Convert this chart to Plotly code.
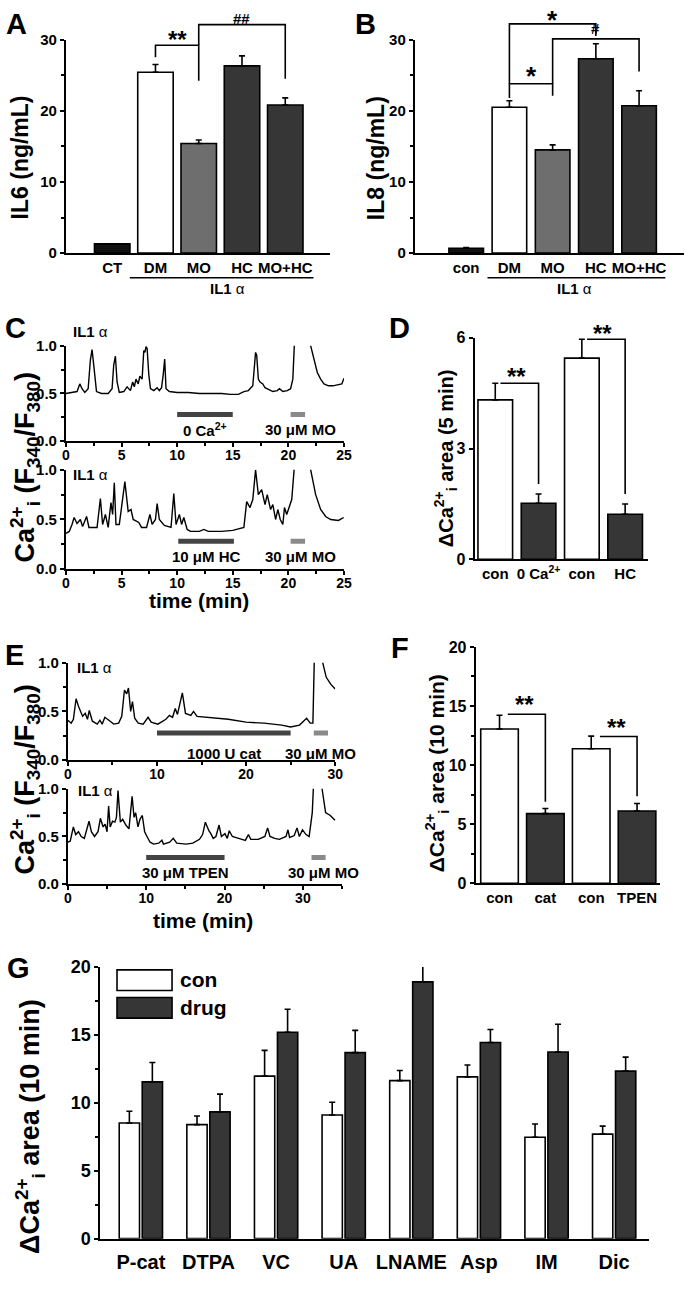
import plotly.graph_objects as go

W, H = 693, 1290
FONT = "Liberation Sans, Arial, sans-serif"
DARK = "#363636"

# ---------------- data ----------------
a_labels = ["CT", "DM", "MO", "HC", "MO+HC"]
a_il6 = [1.3, 25.4, 15.4, 26.3, 20.8]
a_il6_sem = [0.0, 1.1, 0.5, 1.4, 1.0]

b_labels = ["con", "DM", "MO", "HC", "MO+HC"]
b_il8 = [0.7, 20.5, 14.5, 27.3, 20.7]
b_il8_sem = [0.1, 0.9, 0.7, 2.1, 2.1]

ab_colors = ["#111111", "white", "#6e6e6e", DARK, DARK]

# C: ratio traces (values above 1.0 run off the top of the axis)
c1_t = [0, 0.6, 1.0, 1.25, 1.45, 1.7, 2.0, 2.2, 2.35, 2.5, 2.75, 3.2, 3.8, 4.15, 4.3, 4.45,
        4.6, 4.8, 5.2, 5.5, 5.8, 6.0, 6.15, 6.3, 6.5, 6.65, 6.85, 7.0, 7.1, 7.2, 7.3, 7.45,
        7.6, 7.9, 8.2, 8.4, 8.6, 8.75, 8.88, 9.0, 9.3, 10.0, 11.0, 12.0, 13.0, 14.0, 14.8,
        15.5, 16.0, 16.4, 16.8, 16.95, 17.05, 17.15, 17.3, 17.45, 17.7, 17.9, 18.2, 18.6,
        19.0, 19.2, 19.5, 19.9, 20.2, 20.4, 20.55, 20.8, 21.3, 21.8, 22.0, 22.3, 22.6, 22.9,
        23.2, 23.6, 24.0, 24.4, 24.8, 25.0]
c1_ratio = [0.50, 0.51, 0.52, 0.60, 0.55, 0.51, 0.55, 0.85, 0.96, 0.80, 0.52, 0.50, 0.50,
            0.55, 0.80, 0.89, 0.62, 0.51, 0.52, 0.57, 0.53, 0.62, 0.57, 0.65, 0.60, 0.68,
            0.65, 0.95, 0.93, 0.99, 0.97, 0.70, 0.55, 0.53, 0.56, 0.53, 0.56, 0.70, 0.86,
            0.55, 0.52, 0.51, 0.51, 0.50, 0.50, 0.50, 0.49, 0.49, 0.52, 0.53, 0.58, 0.75,
            0.93, 0.90, 0.65, 0.62, 0.60, 0.56, 0.54, 0.52, 0.53, 0.55, 0.52, 0.53, 0.55,
            0.65, 1.05, 1.4, 1.5, 1.3, 1.0, 0.85, 0.72, 0.65, 0.60, 0.58, 0.58, 0.59, 0.60, 0.66]

c2_t = [0, 0.3, 0.55, 0.74, 1.0, 1.3, 1.5, 1.86, 2.07, 2.8, 3.1, 3.3, 3.55, 3.8, 4.05, 4.2,
        4.35, 4.5, 4.8, 5.3, 5.6, 5.85, 6.05, 6.55, 6.8, 7.25, 7.55, 7.75, 8.05, 8.2, 8.4,
        8.85, 9.45, 9.7, 9.9, 10.2, 10.4, 10.6, 10.9, 11.2, 12.0, 12.4, 12.8, 14.0, 15.0,
        16.0, 16.25, 16.55, 16.8, 17.05, 17.3, 17.6, 17.9, 18.1, 18.4, 18.6, 18.85, 19.05,
        19.27, 19.5, 19.65, 19.85, 20.0, 20.3, 20.55, 20.9, 21.5, 22.0, 22.45, 22.9, 23.35,
        23.8, 24.5, 24.97]
c2_ratio = [0.36, 0.38, 0.45, 0.52, 0.46, 0.50, 0.43, 0.53, 0.42, 0.42, 0.71, 0.45, 0.55,
            0.42, 0.67, 0.55, 0.87, 0.45, 0.45, 0.88, 0.58, 0.60, 0.50, 0.47, 0.42, 0.42,
            0.55, 0.45, 0.50, 0.66, 0.50, 0.44, 0.42, 0.76, 0.45, 0.55, 0.45, 0.52, 0.40,
            0.38, 0.38, 0.40, 0.38, 0.38, 0.39, 0.42, 0.68, 0.62, 0.70, 1.00, 0.75, 0.80,
            0.65, 0.75, 0.60, 0.65, 0.50, 0.60, 0.50, 0.45, 0.62, 0.55, 0.60, 0.70, 1.05,
            1.4, 1.5, 1.0, 0.75, 0.60, 0.53, 0.50, 0.49, 0.52]

c1_periods = [(10, 15, "<b>0 Ca<sup>2+</sup></b>"), (20.2, 21.5, "<b>30 μM MO</b>")]
c2_periods = [(10.1, 15.1, "<b>10 μM HC</b>"), (20.2, 21.5, "<b>30 μM MO</b>")]

d_labels = ["con", "0 Ca<sup>2+</sup>", "con", "HC"]
d_area = [4.32, 1.52, 5.45, 1.22]
d_sem = [0.45, 0.25, 0.51, 0.28]

# E: ratio traces
e1_t = [0, 0.37, 0.62, 0.92, 1.2, 1.47, 1.65, 1.95, 2.2, 2.4, 2.75, 3.3, 3.6, 3.85, 4.15,
        4.6, 5.15, 5.7, 6.05, 6.35, 6.6, 6.8, 7.05, 7.25, 7.5, 7.9, 8.45, 9.0, 9.35, 10.1,
        10.6, 11.0, 11.4, 11.75, 12.05, 12.3, 12.85, 13.2, 13.8, 14.1, 14.5, 16.0, 18.0,
        20.0, 22.0, 24.0, 25.0, 26.0, 26.8, 27.2, 27.5, 27.7, 28.1, 28.6, 29.0, 29.5, 30.0]
e1_ratio = [0.41, 0.38, 0.42, 0.63, 0.55, 0.50, 0.45, 0.48, 0.42, 0.51, 0.40, 0.37, 0.41,
            0.37, 0.44, 0.41, 0.37, 0.38, 0.45, 0.72, 0.68, 0.74, 0.50, 0.60, 0.43, 0.38,
            0.37, 0.44, 0.39, 0.37, 0.40, 0.42, 0.46, 0.44, 0.53, 0.47, 0.69, 0.48, 0.46,
            0.50, 0.45, 0.44, 0.42, 0.39, 0.38, 0.36, 0.34, 0.36, 0.43, 0.38, 0.38, 1.2,
            1.4, 1.0, 0.85, 0.78, 0.73]

e2_t = [0, 0.3, 0.7, 1.0, 1.35, 1.7, 2.1, 2.7, 3.0, 3.4, 3.85, 4.15, 4.5, 4.75, 5.0, 5.2,
        5.4, 5.7, 6.0, 6.2, 6.4, 6.7, 7.0, 7.4, 7.8, 8.2, 8.45, 8.65, 8.95, 9.2, 9.5, 9.8,
        10.1, 10.5, 10.95, 11.6, 12.0, 12.2, 13.0, 13.45, 13.9, 15.1, 15.95, 16.8, 17.2,
        17.55, 18.0, 18.25, 18.55, 18.9, 19.3, 19.6, 20.05, 20.35, 20.6, 21.0, 21.8, 22.65,
        23.05, 23.35, 24.3, 25.15, 25.5, 25.8, 26.4, 27.0, 27.85, 28.1, 28.3, 28.9, 29.25,
        29.55, 29.95, 30.4, 30.8, 31.0, 31.2, 31.5, 32.0, 32.45, 32.9, 33.5, 34.1]
e2_ratio = [0.44, 0.45, 0.60, 0.52, 0.55, 0.50, 0.48, 0.66, 0.55, 0.50, 0.55, 0.69, 0.60,
            0.63, 0.55, 0.82, 0.60, 0.66, 0.65, 0.70, 0.98, 0.65, 0.68, 0.62, 0.58, 0.92,
            0.70, 0.75, 0.60, 0.68, 0.72, 0.55, 0.50, 0.44, 0.42, 0.43, 0.46, 0.42, 0.44,
            0.48, 0.43, 0.42, 0.43, 0.47, 0.52, 0.65, 0.56, 0.53, 0.48, 0.50, 0.62, 0.50,
            0.53, 0.48, 0.56, 0.50, 0.48, 0.46, 0.52, 0.47, 0.47, 0.50, 0.59, 0.50, 0.48,
            0.47, 0.50, 0.57, 0.49, 0.51, 0.59, 0.50, 0.57, 0.52, 0.50, 0.64, 0.75, 1.3,
            1.5, 1.0, 0.75, 0.72, 0.67]

e1_periods = [(10, 25, "<b>1000 U cat</b>"), (27.6, 29.2, "<b>30 μM MO</b>")]
e2_periods = [(10, 20, "<b>30 μM TPEN</b>"), (31.1, 32.9, "<b>30 μM MO</b>")]

f_labels = ["con", "cat", "con", "TPEN"]
f_area = [13.06, 5.89, 11.39, 6.11]
f_sem = [1.16, 0.44, 1.06, 0.64]
df_colors = ["white", DARK, "white", DARK]

g_labels = ["P-cat", "DTPA", "VC", "UA", "LNAME", "Asp", "IM", "Dic"]
g_con = [8.51, 8.39, 11.96, 9.10, 11.63, 11.91, 7.46, 7.69]
g_con_sem = [0.87, 0.64, 1.90, 0.94, 0.75, 0.87, 0.98, 0.59]
g_drug = [11.54, 9.33, 15.19, 13.69, 18.90, 14.44, 13.74, 12.33]
g_drug_sem = [1.43, 1.31, 1.69, 1.64, 1.19, 0.96, 2.04, 1.03]

# ---------------- layout of the panels (pixel boxes) ----------------
panels = {
    "A": dict(box=(63, 332, 30, 247), xr=(-1.07, 5.04), yr=(0, 30)),
    "B": dict(box=(418, 692, 30, 247), xr=(-1.19, 5.04), yr=(0, 30)),
    "C1": dict(box=(63, 346, 341, 438), xr=(0, 25), yr=(0, 1)),
    "C2": dict(box=(63, 346, 467, 568), xr=(0, 25), yr=(0, 1)),
    "D": dict(box=(479, 655, 333, 558), xr=(-0.475, 3.52), yr=(0, 6)),
    "E1": dict(box=(65, 337, 663, 762), xr=(0, 30), yr=(0, 1)),
    "E2": dict(box=(65, 344, 791, 888), xr=(0, 35), yr=(0, 1)),
    "F": dict(box=(480, 668, 647, 887), xr=(-0.52, 3.51), yr=(0, 20)),
    "G": dict(box=(98, 656, 972, 1248), xr=(-0.6, 7.51), yr=(0, 20)),
}
order = list(panels)


def ref(k, a):
    n = order.index(k) + 1
    return a if n == 1 else f"{a}{n}"


def to_paper(k, xv, yv):
    x0, x1, top, bot = panels[k]["box"]
    xr, yr = panels[k]["xr"], panels[k]["yr"]
    X = x0 + (xv - xr[0]) / (xr[1] - xr[0]) * (x1 - x0)
    Y = bot - (yv - yr[0]) / (yr[1] - yr[0]) * (bot - top)
    return X / W, 1 - Y / H


shapes, annotations = [], []


def note(text, x, y, size=14, xanchor="center", **kw):
    annotations.append(dict(text=text, x=x / W, y=1 - y / H, xref="paper", yref="paper",
                            xanchor=xanchor, yanchor="middle", showarrow=False,
                            font=dict(family=FONT, size=size, color="black"), **kw))


def star(k, text, xv, yv, size=20):
    x, y = to_paper(k, xv, yv)
    annotations.append(dict(text=f"<b>{text}</b>", x=x, y=y, xref="paper", yref="paper",
                            xanchor="center", yanchor="middle", showarrow=False,
                            font=dict(family=FONT, size=size, color="black")))


def bracket(k, xl, xr_, ytop, yl=None, yr_=None):
    pts = []
    if yl is not None:
        pts.append(to_paper(k, xl, yl))
    pts += [to_paper(k, xl, ytop), to_paper(k, xr_, ytop)]
    if yr_ is not None:
        pts.append(to_paper(k, xr_, yr_))
    path = "M " + " L ".join(f"{x:.5f},{y:.5f}" for x, y in pts)
    shapes.append(dict(type="path", path=path, xref="paper", yref="paper",
                       line=dict(color="black", width=1.6)))


def hline(x0, x1, y, width=1.6):
    shapes.append(dict(type="line", xref="paper", yref="paper", x0=x0 / W, x1=x1 / W,
                       y0=1 - y / H, y1=1 - y / H, line=dict(color="black", width=width)))


fig = go.Figure()

# ---------------- bar panels ----------------
def err(sem):
    return dict(type="data", array=sem, arrayminus=[0] * len(sem), symmetric=False,
                color="black", thickness=1.6, width=3)


for k, vals, sem, cols, w in [("A", a_il6, a_il6_sem, ab_colors, 0.82),
                              ("B", b_il8, b_il8_sem, ab_colors, 0.8),
                              ("D", d_area, d_sem, df_colors, 0.8),
                              ("F", f_area, f_sem, df_colors, 0.82)]:
    fig.add_trace(go.Bar(x=list(range(len(vals))), y=vals, width=w,
                         marker=dict(color=cols, line=dict(color="black", width=1.6)),
                         error_y=err(sem), xaxis=ref(k, "x"), yaxis=ref(k, "y")))

gx = list(range(len(g_labels)))
fig.add_trace(go.Bar(x=gx, y=g_con, width=0.3, offset=-0.32, name="con", cliponaxis=False,
                     marker=dict(color="white", line=dict(color="black", width=1.6)),
                     error_y=err(g_con_sem), xaxis=ref("G", "x"), yaxis=ref("G", "y")))
fig.add_trace(go.Bar(x=gx, y=g_drug, width=0.3, offset=0.02, name="drug", cliponaxis=False,
                     marker=dict(color=DARK, line=dict(color="black", width=1.6)),
                     error_y=err(g_drug_sem), xaxis=ref("G", "x"), yaxis=ref("G", "y")))

# ---------------- ratio traces ----------------
for k, t, v, periods in [("C1", c1_t, c1_ratio, c1_periods), ("C2", c2_t, c2_ratio, c2_periods),
                         ("E1", e1_t, e1_ratio, e1_periods), ("E2", e2_t, e2_ratio, e2_periods)]:
    fig.add_trace(go.Scatter(x=t, y=v, mode="lines", line=dict(color="black", width=1.4),
                             xaxis=ref(k, "x"), yaxis=ref(k, "y")))
    for i, (s, e, lab) in enumerate(periods):
        shapes.append(dict(type="line", xref=ref(k, "x"), yref=ref(k, "y"), x0=s, x1=e,
                           y0=0.28, y1=0.28, line=dict(color="#444444" if i == 0 else "#8a8a8a", width=5)))

# ---------------- axes ----------------
def tfont(size):
    return dict(family=FONT, size=size, color="black")


minor_tick = dict(ticks="outside", ticklen=3, tickwidth=1.5, tickcolor="black")
layout_axes = {}
for k, p in panels.items():
    x0, x1, top, bot = p["box"]
    xa = dict(domain=[x0 / W, x1 / W], range=list(p["xr"]), anchor=ref(k, "y"),
              showline=True, linecolor="black", linewidth=2, showgrid=False, zeroline=False,
              tickfont=tfont(14), tickprefix="<b>", ticksuffix="</b>")
    ya = dict(domain=[1 - bot / H, 1 - top / H], range=list(p["yr"]), anchor=ref(k, "x"),
              showline=True, linecolor="black", linewidth=2, showgrid=False, zeroline=False,
              ticks="outside", ticklen=4, tickwidth=2, tickcolor="black", tickfont=tfont(15),
              tickprefix="<b>", ticksuffix="</b>")
    if k in ("A", "B", "D", "F", "G"):
        labels = {"A": a_labels, "B": b_labels, "D": d_labels, "F": f_labels, "G": g_labels}[k]
        xa.update(tickvals=list(range(len(labels))), ticktext=[f"<b>{s}</b>" for s in labels],
                  ticks="", tickfont=tfont(20 if k == "G" else 15))
    else:
        # time axes: labels sit tight under the axis line, as in the original
        xa.update(ticks="outside", ticklen=4, tickwidth=2, tickcolor="black", ticklabelstandoff=-4,
                  dtick=5 if k.startswith("C") else 10,
                  minor=dict(dtick=2.5 if k.startswith("C") else 5, **minor_tick))
        ya.update(dtick=0.5, tickformat=".1f", minor=dict(dtick=0.25, **minor_tick))
    if k in ("A", "B"):
        ya.update(dtick=10, minor=dict(dtick=5, **minor_tick))
    if k == "D":
        ya.update(dtick=3, tickfont=tfont(16))
    if k in ("F", "G"):
        ya.update(dtick=5, tickfont=tfont(18 if k == "G" else 16), minor=dict(dtick=2.5, **minor_tick))
    if k == "G":
        xa.update(ticklabelstandoff=4)
    layout_axes[ref(k, "xaxis")] = xa
    layout_axes[ref(k, "yaxis")] = ya

# ---------------- labels ----------------
for letter, x, y in [("A", 13, 14), ("B", 368, 14), ("C", 12, 323), ("D", 402, 323),
                     ("E", 11, 655), ("F", 403, 648), ("G", 15, 973)]:
    note(f"<b>{letter}</b>", x, y, size=29)

note("<b>IL6 (ng/mL)</b>", 16, 150, size=23, textangle=-90)
note("<b>IL8 (ng/mL)</b>", 378, 150, size=23, textangle=-90)
hline(128, 315, 272)
hline(492, 673, 272)
note("<b>IL1</b> α", 227, 283, size=15)
note("<b>IL1</b> α", 581, 283, size=15)

ca_ratio = "<b>Ca<sup>2+</sup><sub>i</sub> (F<sub>340</sub>/F<sub>380</sub>)</b>"
note(ca_ratio, 21, 465, size=27, textangle=-90)
note(ca_ratio, 21, 782, size=27, textangle=-90)
note("<b>time (min)</b>", 198, 600, size=21)
note("<b>time (min)</b>", 202, 925, size=21)
for x, y in [(68, 327), (68, 472), (72, 668), (73, 793)]:
    note("<b>IL1</b> α", x, y, size=15, xanchor="left")

area5 = "<b>ΔCa<sup>2+</sup><sub>i</sub> area (5 min)</b>"
area10 = "<b>ΔCa<sup>2+</sup><sub>i</sub> area (10 min)</b>"
note(area5, 450, 455, size=20, textangle=-90)
note(area10, 441, 775, size=21, textangle=-90)
note(area10, 27, 1134, size=27, textangle=-90)

# treatment labels under the period bars
for k, periods, yv in [("C1", c1_periods, 0.12), ("C2", c2_periods, 0.13),
                       ("E1", e1_periods, 0.07), ("E2", e2_periods, 0.12)]:
    for s, e, lab in periods:
        xc = (s + e) / 2
        if lab.endswith("MO</b>"):
            xc = {"C1": 21.1, "C2": 21.1, "E1": 28.4, "E2": 32.6}[k]
        x, y = to_paper(k, xc, yv)
        annotations.append(dict(text=lab, x=x, y=y, xref="paper", yref="paper", showarrow=False,
                                xanchor="center", yanchor="middle",
                                font=dict(family=FONT, size=15, color="black")))

# significance brackets
bracket("A", 1, 2, 29.2, 27.5, 24.2)
bracket("A", 2, 4, 32.1, 29.2, 24.5)
star("A", "**", 1.5, 30.0, size=24)
star("A", "##", 3.0, 33.0, size=15)

bracket("B", 1, 2, 23.8, 21.8, 22.1)
bracket("B", 1, 3, 32.2, 23.8, 30.5)
bracket("B", 2, 4, 30.1, 23.8, 25.5)
star("B", "*", 1.5, 24.9, size=26)
star("B", "*", 2.0, 32.8, size=26)
star("B", "#", 3.0, 31.5, size=15)

bracket("D", 0.12, 1, 4.77, None, 2.04)
bracket("D", 2.12, 3, 5.96, None, 1.77)
star("D", "**", 0.5, 4.95, size=24)
star("D", "**", 2.47, 6.13, size=24)

bracket("F", 0.18, 1, 14.3, None, 6.89)
bracket("F", 2.19, 3, 12.42, None, 7.37)
star("F", "**", 0.55, 15.1, size=24)
star("F", "**", 2.55, 13.2, size=24)

# legend for G
for i, (name, col) in enumerate([("con", "white"), ("drug", DARK)]):
    y0 = 975 + i * 28
    shapes.append(dict(type="rect", xref="paper", yref="paper", x0=115 / W, x1=171 / W,
                       y0=1 - y0 / H, y1=1 - (y0 + 21) / H, fillcolor=col,
                       line=dict(color="black", width=1.6)))
    note(f"<b>{name}</b>", 177, y0 + 10, size=21, xanchor="left")

fig.update_layout(width=W, height=H, margin=dict(l=0, r=0, t=0, b=0),
                  paper_bgcolor="white", plot_bgcolor="white", showlegend=False,
                  barmode="overlay", shapes=shapes, annotations=annotations,
                  font=dict(family=FONT, color="black"), **layout_axes)

# the page's default body margin would shift the whole figure
fig.write_html("out.html", config={"displayModeBar": False},
               post_script="document.body.style.margin = '0px';")
